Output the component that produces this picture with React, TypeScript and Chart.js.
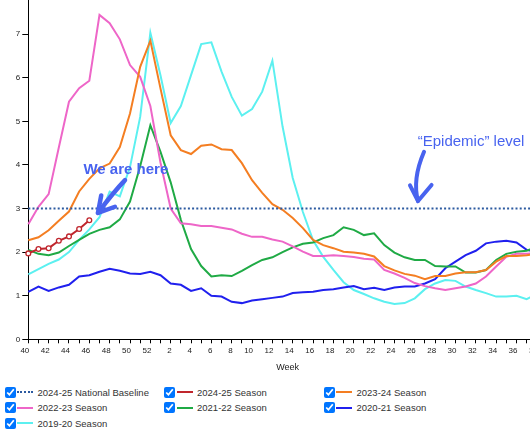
import React, { useEffect, useRef } from 'react';
import { Chart, registerables } from 'chart.js';

Chart.register(...registerables);

// Weeks 40..52 then 1..39
const weeks: string[] = [
  '40','41','42','43','44','45','46','47','48','49','50','51','52',
  '1','2','3','4','5','6','7','8','9','10','11','12','13','14','15','16','17','18','19','20',
  '21','22','23','24','25','26','27','28','29','30','31','32','33','34','35','36','37','38','39',
];

const nationalBaseline = 3.0;

const season2425: (number | null)[] = [1.97, 2.07, 2.09, 2.26, 2.36, 2.53, 2.73];

const season2324: number[] = [
  2.27, 2.34, 2.5, 2.72, 2.93, 3.39, 3.68, 3.92, 4.03, 4.41, 5.18, 6.25, 6.85,
  5.75, 4.68, 4.34, 4.25, 4.44, 4.47, 4.36, 4.34, 4.04, 3.65, 3.36, 3.1, 2.97, 2.78, 2.55, 2.28, 2.16, 2.09, 2.01, 1.99,
  1.96, 1.9, 1.68, 1.58, 1.5, 1.46, 1.38, 1.45, 1.45, 1.51, 1.54, 1.54, 1.59, 1.78, 1.91, 1.91, 1.93, 1.96, 1.98,
];

const season2223: number[] = [
  2.64, 3.04, 3.33, 4.4, 5.45, 5.76, 5.93, 7.44, 7.25, 6.88, 6.29, 6.02, 5.35,
  4.05, 3.0, 2.66, 2.64, 2.6, 2.6, 2.56, 2.52, 2.42, 2.35, 2.35, 2.29, 2.24, 2.13, 2.01, 1.91, 1.91, 1.93, 1.91, 1.89,
  1.85, 1.83, 1.59, 1.51, 1.41, 1.29, 1.22, 1.17, 1.13, 1.17, 1.21, 1.28, 1.44, 1.67, 1.89, 1.96, 1.96, 1.98, 2.0,
];

const season2122: number[] = [
  2.05, 1.96, 1.93, 1.99, 2.14, 2.28, 2.42, 2.51, 2.57, 2.75, 3.16, 3.97, 4.91,
  4.3, 3.6, 2.74, 2.07, 1.68, 1.44, 1.47, 1.45, 1.57, 1.7, 1.82, 1.88, 2.0, 2.11, 2.19, 2.22, 2.32, 2.39, 2.57, 2.51,
  2.39, 2.43, 2.16, 1.99, 1.88, 1.82, 1.82, 1.68, 1.67, 1.67, 1.53, 1.53, 1.59, 1.82, 1.96, 2.01, 2.03, 2.12, 2.15,
];

const season2021: number[] = [
  1.09, 1.21, 1.11, 1.19, 1.25, 1.44, 1.47, 1.55, 1.62, 1.57, 1.51, 1.5, 1.55,
  1.47, 1.28, 1.25, 1.11, 1.17, 1.0, 0.98, 0.86, 0.83, 0.89, 0.92, 0.95, 0.98, 1.06, 1.08, 1.09, 1.13, 1.15, 1.19, 1.22,
  1.15, 1.18, 1.13, 1.19, 1.21, 1.21, 1.28, 1.38, 1.63, 1.78, 1.93, 2.03, 2.2, 2.24, 2.26, 2.22, 2.05, 2.0, 1.95,
];

const season1920: number[] = [
  1.49, 1.61, 1.73, 1.83, 2.0, 2.28, 2.52, 2.8, 3.39, 3.28, 3.95, 5.1, 7.03,
  6.05, 4.96, 5.35, 6.06, 6.77, 6.81, 6.14, 5.56, 5.13, 5.28, 5.68, 6.39, 4.88, 3.7, 2.92, 2.27, 1.89, 1.59, 1.31, 1.13,
  1.04, 0.94, 0.86, 0.81, 0.83, 0.94, 1.15, 1.28, 1.36, 1.34, 1.21, 1.13, 1.06, 0.98, 0.98, 1.0, 0.92, 1.04, 1.02,
];

const yTicks = [0, 1, 2, 3, 4, 5, 6, 7, 8];

const COLORS = {
  baseline: '#2c5aa0',
  s2425: '#c0262d',
  s2324: '#f47e22',
  s2223: '#ee66c8',
  s2122: '#1faa45',
  s2021: '#2020ee',
  s1920: '#5cf0f0',
  note: '#4863ef',
};

const legendItems = [
  { label: '2024-25 National Baseline', color: COLORS.baseline, dotted: true, col: 0, row: 0 },
  { label: '2024-25 Season', color: COLORS.s2425, dotted: false, col: 1, row: 0 },
  { label: '2023-24 Season', color: COLORS.s2324, dotted: false, col: 2, row: 0 },
  { label: '2022-23 Season', color: COLORS.s2223, dotted: false, col: 0, row: 1 },
  { label: '2021-22 Season', color: COLORS.s2122, dotted: false, col: 1, row: 1 },
  { label: '2020-21 Season', color: COLORS.s2021, dotted: false, col: 2, row: 1 },
  { label: '2019-20 Season', color: COLORS.s1920, dotted: false, col: 0, row: 2 },
];
const legendColX = [4.5, 164, 323.5];
const legendRowY = [392.3, 407.8, 423.3];

// annotation anchors in (week index, value) terms
const NOTE_HERE = { text: 'We are here', at: [9.59, 3.79] };
const ARROW_HERE = { from: [9.51, 3.65], ctrl: [8.4, 3.38], tip: [6.85, 2.9], armA: [7.17, 3.3], armB: [8.52, 3.04] };
const NOTE_EPI = { text: '\u201CEpidemic\u201D level', at: [38.29, 4.43] };
const ARROW_EPI = { from: [38.91, 4.3], ctrl: [37.73, 3.66], tip: [38.32, 3.17], armA: [37.53, 3.53], armB: [39.65, 3.54] };

const notesPlugin = {
  id: 'notes',
  afterDatasetsDraw(chart: any) {
    const { ctx, scales } = chart;
    const xs = scales.x;
    const ys = scales.y;
    const P = (p: number[]) => [xs.getPixelForValue(p[0]), ys.getPixelForValue(p[1])];
    ctx.save();
    ctx.fillStyle = COLORS.note;
    ctx.strokeStyle = COLORS.note;
    ctx.lineCap = 'round';
    ctx.lineJoin = 'round';

    ctx.font = 'bold 15px "Liberation Sans", Arial, sans-serif';
    ctx.textAlign = 'center';
    ctx.textBaseline = 'alphabetic';
    const [hx, hy] = P(NOTE_HERE.at);
    ctx.fillText(NOTE_HERE.text, hx, hy);

    ctx.font = '15px "Liberation Sans", Arial, sans-serif';
    ctx.textAlign = 'left';
    const [ex, ey] = P(NOTE_EPI.at);
    ctx.fillText(NOTE_EPI.text, ex, ey);

    const drawArrow = (a: any, w: number) => {
      const f = P(a.from), c = P(a.ctrl), t = P(a.tip), A = P(a.armA), B = P(a.armB);
      ctx.lineWidth = w;
      ctx.beginPath();
      ctx.moveTo(f[0], f[1]);
      ctx.quadraticCurveTo(c[0], c[1], t[0], t[1]);
      ctx.stroke();
      ctx.beginPath();
      ctx.moveTo(A[0], A[1]);
      ctx.lineTo(t[0], t[1]);
      ctx.lineTo(B[0], B[1]);
      ctx.stroke();
    };
    drawArrow(ARROW_HERE, 4.5);
    drawArrow(ARROW_EPI, 4);
    ctx.restore();
  },
};

export default function App() {
  const ref = useRef<HTMLCanvasElement | null>(null);

  useEffect(() => {
    document.body.style.margin = '0';
    const canvas = ref.current;
    if (!canvas) return;
    const line = (label: string, data: (number | null)[], color: string, extra: any = {}) => ({
      label,
      data,
      borderColor: color,
      backgroundColor: color,
      borderWidth: 2,
      pointRadius: 0,
      tension: 0,
      fill: false,
      ...extra,
    });
    const chart = new Chart(canvas, {
      type: 'line',
      data: {
        labels: weeks,
        datasets: [
          line('2024-25 National Baseline', weeks.map(() => nationalBaseline), COLORS.baseline, { borderDash: [2, 2.2] }),
          line('2024-25 Season', season2425, COLORS.s2425, {
            pointRadius: 2.4,
            pointBorderWidth: 1.3,
            pointBackgroundColor: '#ffffff',
            pointBorderColor: COLORS.s2425,
          }),
          line('2023-24 Season', season2324, COLORS.s2324),
          line('2022-23 Season', season2223, COLORS.s2223),
          line('2021-22 Season', season2122, COLORS.s2122),
          line('2020-21 Season', season2021, COLORS.s2021),
          line('2019-20 Season', season1920, COLORS.s1920),
        ],
      },
      options: {
        animation: false,
        responsive: false,
        devicePixelRatio: 1,
        events: [],
        layout: { padding: { left: 0, right: 13, top: 20.5, bottom: 0 } },
        plugins: { legend: { display: false }, tooltip: { enabled: false }, title: { display: false } },
        scales: {
          x: {
            type: 'category',
            offset: false,
            afterFit: (s: any) => { s.height = 40.7; },
            grid: { drawOnChartArea: false, drawTicks: true, tickLength: 4, color: '#000', lineWidth: 1 },
            border: { display: true, color: '#000', width: 1 },
            ticks: {
              autoSkip: false,
              maxRotation: 0,
              minRotation: 0,
              align: 'end',
              labelOffset: 1,
              padding: 3,
              color: '#222',
              font: { family: '"Liberation Sans", Arial, sans-serif', size: 8 },
              callback: (_v: any, i: number) => (parseInt(weeks[i], 10) % 2 === 0 ? weeks[i] : ''),
            },
            title: {
              display: true,
              text: 'Week',
              color: '#222',
              font: { family: '"Liberation Sans", Arial, sans-serif', size: 9 },
              padding: { top: 0, bottom: 7 },
            },
          },
          y: {
            min: yTicks[0],
            max: yTicks[yTicks.length - 1],
            afterFit: (s: any) => { s.width = 28.3; },
            afterBuildTicks: (s: any) => { s.ticks = yTicks.map((v) => ({ value: v })); },
            grid: { drawOnChartArea: false, drawTicks: true, tickLength: 6, color: '#000', lineWidth: 1 },
            border: { display: true, color: '#000', width: 1 },
            ticks: {
              padding: 2,
              color: '#222',
              font: { family: '"Liberation Sans", Arial, sans-serif', size: 8 },
            },
          },
        },
      },
      plugins: [notesPlugin],
    } as any);
    return () => chart.destroy();
  }, []);

  return (
    <div style={{ position: 'relative', width: 530, height: 442, overflow: 'hidden', background: '#fff' }}>
      <canvas ref={ref} width={560} height={410} style={{ position: 'absolute', left: 0, top: -30, width: 560, height: 410 }} />
      {legendItems.map((it) => (
        <div
          key={it.label}
          style={{
            position: 'absolute',
            left: legendColX[it.col],
            top: legendRowY[it.row] - 6,
            height: 12,
            display: 'flex',
            alignItems: 'center',
            whiteSpace: 'nowrap',
            font: '9.5px "Liberation Sans", Arial, sans-serif',
            color: '#333',
          }}
        >
          <input type="checkbox" checked readOnly style={{ margin: 0, width: 11, height: 11 }} />
          <span
            style={{
              display: 'inline-block',
              marginLeft: 1.5,
              width: 16,
              height: 0,
              borderTop: it.dotted ? `2px dotted ${it.color}` : `2px solid ${it.color}`,
            }}
          />
          <span style={{ marginLeft: 4.5 }}>{it.label}</span>
        </div>
      ))}
    </div>
  );
}
